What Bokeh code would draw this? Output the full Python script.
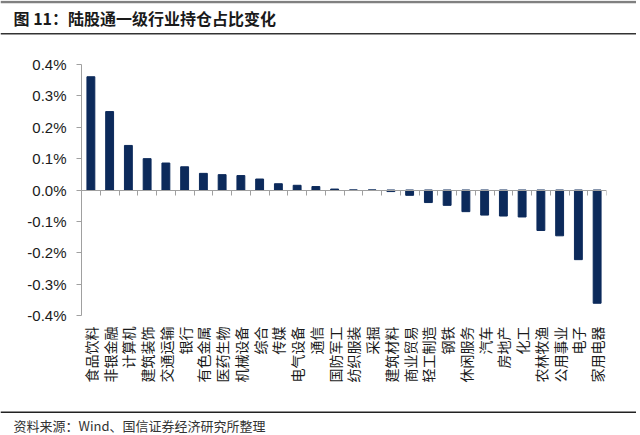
import math
from bokeh.plotting import figure
from bokeh.layouts import column
from bokeh.models import (ColumnDataSource, Range1d, FixedTicker, PrintfTickFormatter,
                          LinearAxis, Span)
from bokeh.core.properties import value
from bokeh.embed import file_html
from bokeh.resources import INLINE

# ---------------- data ----------------
title_text = "图 11：陆股通一级行业持仓占比变化"
source_text = "资料来源：Wind、国信证券经济研究所整理"

categories = ["食品饮料", "非银金融", "计算机", "建筑装饰", "交通运输", "银行", "有色金属",
              "医药生物", "机械设备", "综合", "传媒", "电气设备", "通信", "国防军工",
              "纺织服装", "采掘", "建筑材料", "商业贸易", "轻工制造", "钢铁", "休闲服务",
              "汽车", "房地产", "化工", "农林牧渔", "公用事业", "电子", "家用电器"]

change_pct = [0.361, 0.250, 0.142, 0.100, 0.086, 0.074, 0.053,
              0.049, 0.046, 0.035, 0.020, 0.015, 0.011, 0.003,
              0.000, 0.000, -0.005, -0.017, -0.040, -0.049, -0.069,
              -0.080, -0.083, -0.086, -0.129, -0.146, -0.222, -0.361]

y_ticks = [-0.4, -0.3, -0.2, -0.1, 0.0, 0.1, 0.2, 0.3, 0.4]

# ---------------- styles ----------------
W = 636
BAR_COLOR = "#0c2a5b"
AXIS_COLOR = "#a0a0a0"
CJK = "Noto Sans CJK SC"


def blank_fig(h):
    f = figure(width=W, height=h, x_range=Range1d(0, W), y_range=Range1d(h, 0),
               output_backend="svg", toolbar_location=None,
               min_border=0, min_border_left=0, min_border_right=0,
               min_border_top=0, min_border_bottom=0)
    f.axis.visible = False
    f.grid.visible = False
    f.outline_line_color = None
    f.frame_align = False
    return f


# ---------------- header ----------------
HDR_H = 36
hdr = blank_fig(HDR_H)
hdr.add_layout(Span(location=1.5, dimension="width", line_color="#808080", line_width=2.5))
hdr.text(x=[13], y=[17], text=[title_text], text_font=value(CJK),
         text_font_size="16px", text_font_style="bold", text_color="#1a1a1a",
         text_baseline="middle", text_align="left")
hdr.add_layout(Span(location=33.3, dimension="width", line_color="#333333", line_width=1.4))

# ---------------- main chart ----------------
n = len(categories)
idx = list(range(n))
src = ColumnDataSource(dict(x=idx, top=change_pct, name=categories))

p = figure(width=W, height=369, x_range=Range1d(-0.5, n - 0.5), y_range=Range1d(-0.4, 0.4),
           output_backend="svg", toolbar_location=None,
           min_border_left=81, min_border_right=30, min_border_top=28, min_border_bottom=90)
p.frame_align = False
p.grid.visible = False
p.outline_line_color = None
p.background_fill_color = "white"

p.vbar(x="x", top="top", bottom=0, width=0.42, source=src,
       fill_color=BAR_COLOR, line_color=BAR_COLOR)

# y axis
ya = p.yaxis[0]
ya.ticker = FixedTicker(ticks=y_ticks)
ya.formatter = PrintfTickFormatter(format="%.1f%%")
ya.axis_line_color = AXIS_COLOR
ya.major_tick_line_color = AXIS_COLOR
ya.major_tick_out = 5
ya.major_tick_in = 0
ya.minor_tick_line_color = None
ya.major_label_standoff = 10
ya.major_label_text_font = "Liberation Sans"
ya.major_label_text_font_size = "15px"
ya.major_label_text_color = "#1a1a1a"

# x labels axis (bottom)
xa = p.xaxis[0]
xa.ticker = FixedTicker(ticks=idx)
xa.major_label_overrides = {i: c for i, c in zip(idx, categories)}
xa.major_label_orientation = math.pi / 2
xa.axis_line_color = None
xa.major_tick_line_color = None
xa.minor_tick_line_color = None
xa.major_label_standoff = 5
xa.major_label_text_font = CJK
xa.major_label_text_font_size = "14px"
xa.major_label_text_color = "#1a1a1a"

# zero line axis with ticks between categories
zero_axis = LinearAxis(fixed_location=0,
                       ticker=FixedTicker(ticks=[], minor_ticks=[i - 0.5 for i in range(n + 1)]))
zero_axis.axis_line_color = AXIS_COLOR
zero_axis.major_tick_line_color = None
zero_axis.minor_tick_line_color = AXIS_COLOR
zero_axis.minor_tick_out = 5
zero_axis.minor_tick_in = 0
p.add_layout(zero_axis, "below")

# ---------------- footer ----------------
FTR_H = 30
ftr = blank_fig(FTR_H)
ftr.add_layout(Span(location=6.7, dimension="width", line_color="#222222", line_width=1.4))
ftr.text(x=[13], y=[20], text=[source_text], text_font=value(CJK),
         text_font_size="13px", text_color="#333333",
         text_baseline="middle", text_align="left")

layout = column(hdr, p, ftr, spacing=0)

open("out.html", "w").write(file_html(layout, INLINE))
